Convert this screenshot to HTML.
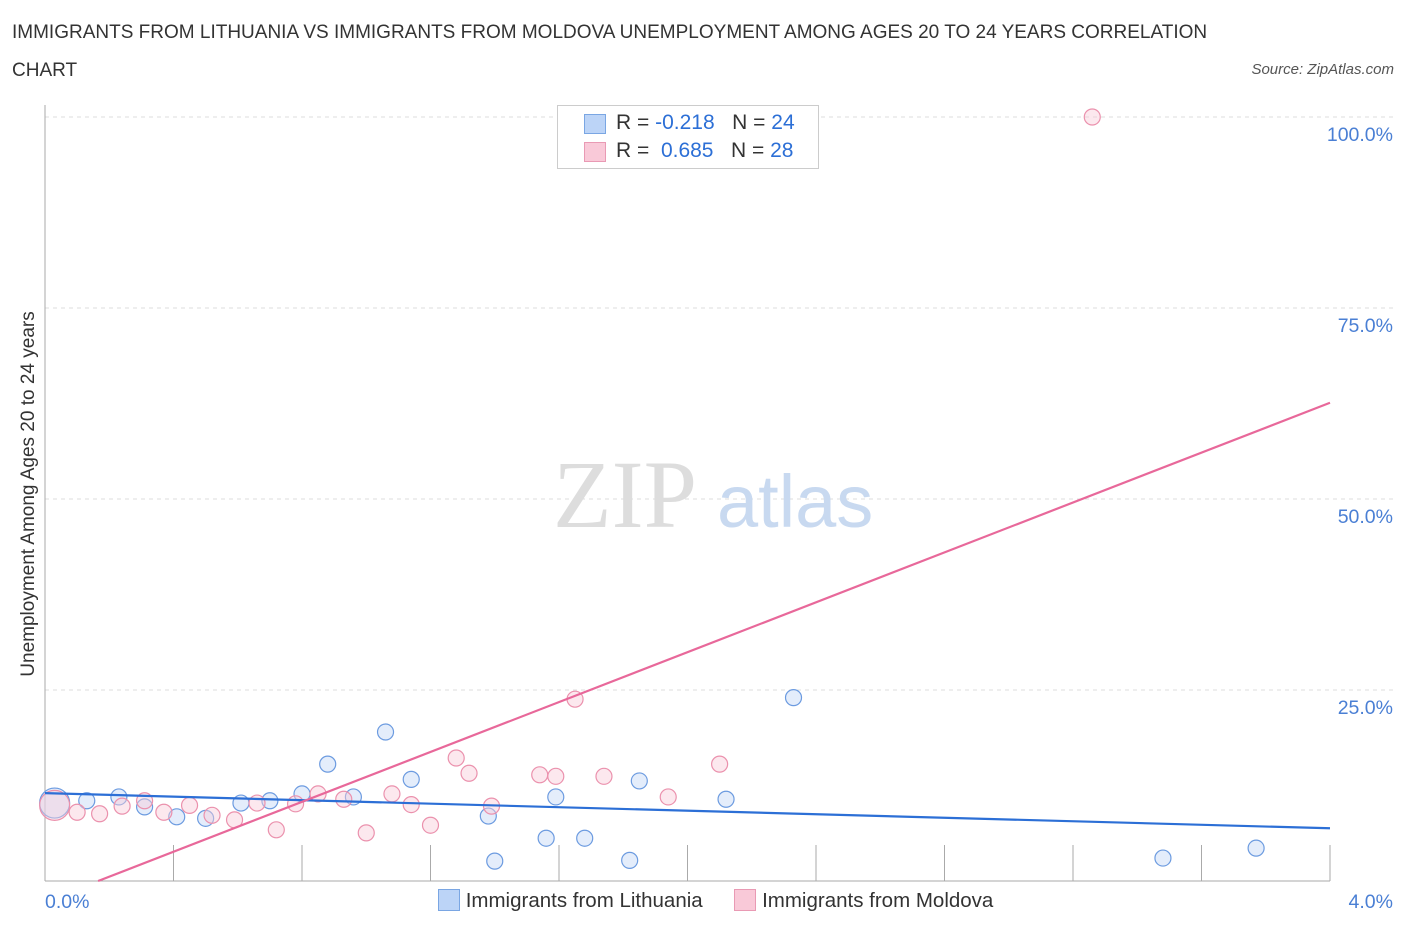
<!DOCTYPE html>
<html><head><meta charset="utf-8"><style>
body{margin:0;background:#fff;font-family:"Liberation Sans",sans-serif;}
.t{position:absolute;}
</style></head><body>
<div style="position:relative;width:1406px;height:930px;overflow:hidden">
<div class="t" style="left:12px;top:14px;font-size:19px;color:#333;line-height:38px;width:1200px">IMMIGRANTS FROM LITHUANIA VS IMMIGRANTS FROM MOLDOVA UNEMPLOYMENT AMONG AGES 20 TO 24 YEARS CORRELATION CHART</div>
<div class="t" style="right:12px;top:61px;font-size:15px;color:#555;font-style:italic">Source: ZipAtlas.com</div>
<svg id="svg" width="1406" height="930" style="position:absolute;left:0;top:0"></svg>
</div>
<script>
const xTicks=[0,4];
const yTicks=[25,50,75,100];
const blueX=[0.03,0.13,0.23,0.31,0.41,0.50,0.61,0.70,0.80,0.88,0.96,1.06,1.14,1.38,1.40,1.56,1.59,1.68,1.82,1.85,2.12,2.33,3.48,3.77];
const blueY=[10.2,10.5,11.0,9.7,8.4,8.2,10.2,10.5,11.4,15.3,11.0,19.5,13.3,8.5,2.6,5.6,11.0,5.6,2.7,13.1,10.7,24.0,3.0,4.3];
const pinkX=[0.03,0.10,0.17,0.24,0.31,0.37,0.45,0.52,0.59,0.66,0.72,0.78,0.85,0.93,1.00,1.08,1.14,1.20,1.28,1.32,1.39,1.54,1.59,1.65,1.74,1.94,2.10,3.26];
const pinkY=[9.9,9.0,8.8,9.8,10.5,9.0,9.9,8.6,8.0,10.2,6.7,10.1,11.4,10.7,6.3,11.4,10.0,7.3,16.1,14.1,9.8,13.9,13.7,23.8,13.7,11.0,15.3,100];
const blueTrend=[11.5,6.9];
const pinkTrend=[-2.7,62.6];
const sx=v=>45+v/4*1285, sy=v=>881-v*7.64;
const svg=document.getElementById('svg');const NS='http://www.w3.org/2000/svg';
function mk(tag,a,p){const e=document.createElementNS(NS,tag);for(const k in a)e.setAttribute(k,a[k]);(p||svg).appendChild(e);return e;}
yTicks.forEach(v=>{const l=mk('line',{x1:45,x2:1395,y1:sy(v),y2:sy(v),stroke:'#ddd','stroke-dasharray':'4,4'});


const t=mk('text',{x:1393,y:sy(v)+24,'text-anchor':'end','font-size':19.5,fill:'#4a7fd4','font-family':'Liberation Sans'});t.textContent=v.toFixed(1)+'%';

});
const ax=mk('line',{x1:45,x2:45,y1:105,y2:881,stroke:'#aaa'});


const bx=mk('line',{x1:45,x2:1330,y1:881,y2:881,stroke:'#aaa'});


for(let i=0;i<=10;i++){const l=mk('line',{x1:sx(i*0.4),x2:sx(i*0.4),y1:845,y2:881,stroke:'#aaa'});

}
xTicks.forEach((v,i)=>{const t=mk('text',{x:i?1393:45,y:908,'text-anchor':i?'end':'start','font-size':19.5,fill:'#4a7fd4','font-family':'Liberation Sans'});t.textContent=v.toFixed(1)+'%';

});
const wm=mk('text',{x:553,y:527,'font-size':96,fill:'#ddd','font-family':'Liberation Serif'});wm.textContent='ZIP';


const wm2=mk('text',{x:717,y:527,'font-size':74,fill:'#c8d9f0','font-family':'Liberation Sans'});wm2.textContent='atlas';


const yl=mk('text',{x:0,y:0,transform:'translate(34,494) rotate(-90)','text-anchor':'middle','font-size':19,fill:'#333','font-family':'Liberation Sans'});yl.textContent='Unemployment Among Ages 20 to 24 years';


function pts(X,Y,fill,stroke,name){X.forEach((x,i)=>{const c=mk('circle',{cx:sx(x),cy:sy(Y[i]),r:i==0?15:8,fill:fill,stroke:stroke,'stroke-width':1.2,'fill-opacity':0.45});

});}
pts(blueX,blueY,'#c3d8f7','#6c9be0','point-lithuania');
pts(pinkX,pinkY,'#f9ccda','#eb91ad','point-moldova');
const bt=mk('line',{x1:sx(0),y1:sy(blueTrend[0]),x2:sx(4),y2:sy(blueTrend[1]),stroke:'#2c6fd6','stroke-width':2.2});


const x0=-pinkTrend[0]/(pinkTrend[1]-pinkTrend[0])*4;
const pt=mk('line',{x1:sx(x0),y1:sy(0),x2:sx(4),y2:sy(pinkTrend[1]),stroke:'#e8689a','stroke-width':2.2});


</script>
<div class="t" style="left:557px;top:105px;width:260px;height:62px;border:1px solid #ccc;background:#fff;font-size:21px;color:#333">
<div style="position:absolute;left:26px;top:8px;width:20px;height:18px;background:#bcd4f7;border:1px solid #7aa6e3"></div>
<div style="position:absolute;left:58px;top:5px;white-space:nowrap">R = <span style="color:#2c6fd6">-0.218</span>&nbsp;&nbsp;&nbsp;N = <span style="color:#2c6fd6">24</span></div>
<div style="position:absolute;left:26px;top:36px;width:20px;height:18px;background:#f9c9d8;border:1px solid #e99ab4"></div>
<div style="position:absolute;left:58px;top:33px;white-space:nowrap">R = &nbsp;<span style="color:#2c6fd6">0.685</span>&nbsp;&nbsp;&nbsp;N = <span style="color:#2c6fd6">28</span></div>
</div>
<div class="t" style="left:438px;top:889px;font-size:20.5px;color:#333;white-space:nowrap">
<span style="display:inline-block;width:20px;height:20px;background:#bcd4f7;border:1px solid #7aa6e3;vertical-align:-4px"></span> Immigrants from Lithuania
<span style="display:inline-block;width:20px;height:20px;background:#f9c9d8;border:1px solid #e99ab4;vertical-align:-4px;margin-left:26px"></span> Immigrants from Moldova
</div>
</body></html>
